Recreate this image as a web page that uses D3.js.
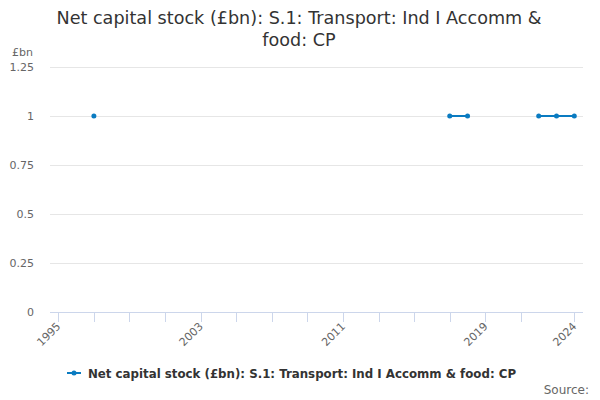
<!DOCTYPE html>
<html>
<head>
<meta charset="utf-8">
<script src="https://cdn.jsdelivr.net/npm/d3@7"></script>
<style>
  body { margin: 0; background: #fff; }
  svg { font-family: "DejaVu Sans", sans-serif; }
</style>
</head>
<body>
<div id="chart"></div>
<script>
// data (nulls are gaps)
var years = d3.range(1995, 2025);
var values = [
  null, null, 1, null, null, null, null, null, null, null,
  null, null, null, null, null, null, null, null, null, null,
  null, null, 1, 1, null, null, null, 1, 1, 1
];
var yTicks = [0, 0.25, 0.5, 0.75, 1, 1.25];
var xTicks = d3.range(1995, 2022, 2).concat([2024]);
var xLabels = [1995, 2003, 2011, 2019, 2024];

var title = ['Net capital stock (£bn): S.1: Transport: Ind I Accomm &', 'food: CP'];
var seriesName = 'Net capital stock (£bn): S.1: Transport: Ind I Accomm & food: CP';
var colour = '#0a7bc1';

var width = 600, height = 400;

var svg = d3.select('#chart').append('svg')
    .attr('width', width)
    .attr('height', height);

var x = d3.scaleLinear().domain([1995, 2024]).range([58.3, 574.3]);
var y = d3.scaleLinear().domain([0, 1.25]).range([312, 67]);
var plotLeft = 50, plotRight = 583;

// title
svg.append('g').selectAll('text')
    .data(title)
  .enter().append('text')
    .attr('x', 299)
    .attr('y', function(d, i) { return 24 + i * 22; })
    .attr('text-anchor', 'middle')
    .attr('font-size', 17.6)
    .attr('fill', '#333')
    .text(function(d) { return d; });

// grid + y labels
var grid = svg.append('g');
grid.selectAll('line')
    .data(yTicks.filter(function(d) { return d > 0; }))
  .enter().append('line')
    .attr('x1', plotLeft).attr('x2', plotRight)
    .attr('y1', function(d) { return y(d) + 0.5; })
    .attr('y2', function(d) { return y(d) + 0.5; })
    .attr('stroke', '#e6e6e6');

grid.selectAll('text')
    .data(yTicks)
  .enter().append('text')
    .attr('x', 34)
    .attr('y', function(d) { return y(d) + 4; })
    .attr('text-anchor', 'end')
    .attr('font-size', 11)
    .attr('fill', '#666')
    .text(function(d) { return d; });

svg.append('text')
    .attr('x', 33).attr('y', 56)
    .attr('text-anchor', 'end')
    .attr('font-size', 11)
    .attr('fill', '#666')
    .text('£bn');

// x axis
var xAxis = svg.append('g');
xAxis.append('line')
    .attr('x1', plotLeft).attr('x2', plotRight)
    .attr('y1', 312.5).attr('y2', 312.5)
    .attr('stroke', '#ccd6eb');

xAxis.selectAll('line.tick')
    .data(xTicks)
  .enter().append('line')
    .attr('class', 'tick')
    .attr('x1', function(d) { return Math.round(x(d)) + 0.5; })
    .attr('x2', function(d) { return Math.round(x(d)) + 0.5; })
    .attr('y1', 312).attr('y2', 322)
    .attr('stroke', '#ccd6eb');

xAxis.selectAll('text')
    .data(xLabels)
  .enter().append('text')
    .attr('transform', function(d) {
      return 'translate(' + (x(d) + 3) + ',327) rotate(-45)';
    })
    .attr('text-anchor', 'end')
    .attr('font-size', 11)
    .attr('fill', '#666')
    .text(function(d) { return d; });

// series
var pts = years.map(function(d, i) { return { year: d, value: values[i] }; });

var line = d3.line()
    .defined(function(d) { return d.value != null; })
    .x(function(d) { return x(d.year); })
    .y(function(d) { return y(d.value); });

svg.append('path')
    .datum(pts)
    .attr('fill', 'none')
    .attr('stroke', colour)
    .attr('stroke-width', 2)
    .attr('d', line);

svg.append('g').selectAll('circle')
    .data(pts.filter(function(d) { return d.value != null; }))
  .enter().append('circle')
    .attr('cx', function(d) { return x(d.year); })
    .attr('cy', function(d) { return y(d.value); })
    .attr('r', 2.5)
    .attr('fill', colour);

// legend
var legend = svg.append('g');
legend.append('line')
    .attr('x1', 67).attr('x2', 81)
    .attr('y1', 373).attr('y2', 373)
    .attr('stroke', colour).attr('stroke-width', 2);
legend.append('circle')
    .attr('cx', 74).attr('cy', 373).attr('r', 2.5)
    .attr('fill', colour);
legend.append('text')
    .attr('x', 88).attr('y', 377.5)
    .attr('font-size', 11.8)
    .attr('font-weight', 'bold')
    .attr('fill', '#333')
    .text(seriesName);

svg.append('text')
    .attr('x', 589).attr('y', 394)
    .attr('text-anchor', 'end')
    .attr('font-size', 12)
    .attr('fill', '#666')
    .text('Source:');
</script>
</body>
</html>
